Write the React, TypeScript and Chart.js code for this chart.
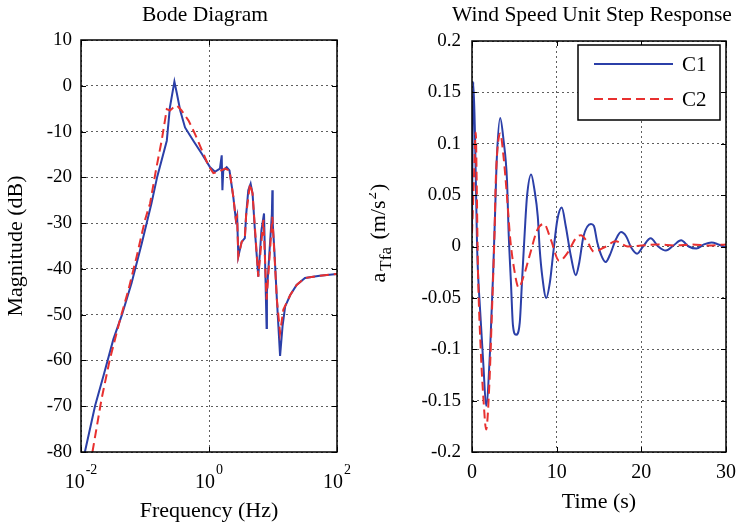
import React, { useEffect, useRef } from 'react';
import { Chart, registerables } from 'chart.js';

Chart.register(...registerables);

const FONT = '"Liberation Serif", "Times New Roman", serif';

// ---- Bode diagram data (frequency in Hz, magnitude in dB) ----
const bodeFreqC1 = [0.0115, 0.0166, 0.0224, 0.032, 0.0437, 0.0617, 0.0891, 0.126, 0.155, 0.219, 0.245, 0.288, 0.316, 0.355, 0.422, 0.569, 0.776, 1.04, 1.24, 1.48, 1.58, 1.62, 1.67, 1.89, 2.09, 2.40, 2.63, 2.75, 2.87, 3.24, 3.63, 3.80, 4.11, 4.47, 4.79, 5.25, 5.89, 6.61, 7.24, 7.94, 8.04, 9.6, 9.77, 9.9, 10.5, 11.5, 12.9, 14.1, 15.5, 18.6, 23.4, 31.6, 53.7, 100];
const bodeMagC1 = [-80, -69.9, -63.4, -55.4, -50, -43.1, -34.4, -25.7, -19.9, -12, -4.7, 0.9, -1.8, -5.4, -9.1, -12, -14.9, -17.8, -18.8, -18.1, -15.2, -22.8, -18.5, -17.8, -18.5, -24.3, -29.3, -28.3, -37.3, -34.1, -33.3, -28.3, -22.8, -21.4, -23.5, -32.2, -41.7, -31.5, -27.9, -52.9, -45, -28, -22.8, -30, -35.9, -46.7, -59, -52.5, -48.2, -45.7, -43.5, -42, -41.5, -41.1];
const bodeFreqC2 = [0.0151, 0.0209, 0.0282, 0.0407, 0.055, 0.0741, 0.1, 0.12, 0.148, 0.182, 0.219, 0.245, 0.275, 0.316, 0.372, 0.479, 0.603, 0.776, 0.977, 1.17, 1.40, 1.78, 2.09, 2.40, 2.63, 2.75, 2.87, 3.24, 3.63, 3.80, 4.37, 4.79, 5.89, 7.08, 7.94, 9.77, 11.5, 12.9, 14.5, 18.6, 23.4, 31.6, 53.7, 100];
const bodeMagC2 = [-80, -68.5, -59.8, -51.1, -44.6, -37.3, -29.3, -25.7, -18.5, -12, -5.1, -5.4, -4.8, -4.3, -5.4, -7.6, -10.5, -14.1, -17.4, -19.1, -18.8, -18.1, -18.5, -24.3, -29.3, -28.5, -37.3, -34.1, -33.3, -28.3, -21.4, -23.5, -41.7, -29.3, -46.7, -28.6, -46.7, -54, -48.9, -45.7, -43.5, -42, -41.5, -41.1];
const bodeXTicks = [0.01, 1, 100];
const bodeXTickExponents = ['-2', '0', '2'];

// ---- Step response data (time in s, a_Tfa in m/s^2) ----
const stepTimeC1 = [0, 0.15, 0.35, 0.6, 0.95, 1.35, 1.67, 2.14, 2.5, 2.74, 2.9, 3.33, 3.73, 4.13, 4.33, 4.6, 4.84, 5.2, 5.64, 5.9, 6.31, 6.5, 6.98, 7.38, 7.77, 8.0, 8.3, 8.77, 9.2, 9.6, 10.08, 10.6, 11.07, 11.67, 12.26, 12.66, 13.17, 14.05, 14.4, 14.8, 15.4, 15.8, 16.3, 17.0, 17.6, 18.2, 18.8, 19.5, 20.2, 21.1, 22.0, 22.9, 23.8, 24.7, 25.6, 26.5, 27.4, 28.3, 29.1, 30];
const stepValC1 = [0.02, 0.16, 0.11, 0.0, -0.061, -0.116, -0.155, -0.1, -0.025, 0.036, 0.08, 0.125, 0.103, 0.065, 0.013, -0.035, -0.077, -0.086, -0.074, -0.035, 0.026, 0.049, 0.07, 0.055, 0.029, -0.003, -0.029, -0.05, -0.035, -0.006, 0.026, 0.038, 0.02, -0.009, -0.028, -0.016, 0.01, 0.022, 0.02, 0.004, -0.011, -0.015, -0.008, 0.007, 0.014, 0.01, -0.001, -0.007, 0, 0.008, 0, -0.004, 0.001, 0.006, 0, -0.002, 0.002, 0.004, 0.002, -0.001];
const stepTimeC2 = [0, 0.2, 0.45, 0.55, 0.7, 1.03, 1.35, 1.67, 2.06, 2.34, 2.66, 2.8, 3.0, 3.33, 3.73, 4.13, 4.52, 4.92, 5.52, 6.1, 6.9, 7.7, 8.5, 9.3, 10.3, 11.3, 12.26, 12.86, 13.65, 14.4, 15.6, 17, 18.4, 20, 22, 24, 26, 28, 30];
const stepValC2 = [0.013, 0.06, 0.111, 0.065, -0.02, -0.1, -0.148, -0.178, -0.132, -0.067, 0.013, 0.062, 0.094, 0.11, 0.087, 0.049, 0.007, -0.019, -0.04, -0.029, -0.006, 0.016, 0.022, 0.007, -0.014, -0.006, 0.008, 0.011, 0.004, -0.005, -0.001, 0.005, 0, 0.001, 0.002, 0.001, 0.002, 0.001, 0.002];

const seriesLabels = ['C1', 'C2'];
const seriesColors = ['#2b3fa8', '#e8302f'];
const seriesDash = [[], [9, 5]];

const zip = (xs: number[], ys: number[]) => xs.map((x, i) => ({ x, y: ys[i] }));

const matlabPlugin = {
  id: 'matlab',
  afterDraw(chart: any, _args: any, opts: any) {
    const ctx = chart.ctx as CanvasRenderingContext2D;
    const a = chart.chartArea;
    const xs = chart.scales.x;
    const ys = chart.scales.y;
    ctx.save();
    ctx.strokeStyle = '#000';
    ctx.lineWidth = 1;
    ctx.setLineDash([]);
    const tl = 5;
    const seg = (x1: number, y1: number, x2: number, y2: number) => {
      ctx.beginPath();
      ctx.moveTo(x1, y1);
      ctx.lineTo(x2, y2);
      ctx.stroke();
    };
    xs.ticks.forEach((t: any) => {
      const px = Math.round(xs.getPixelForValue(t.value)) + 0.5;
      seg(px, a.bottom, px, a.bottom - tl);
      seg(px, a.top, px, a.top + tl);
    });
    ys.ticks.forEach((t: any) => {
      const py = Math.round(ys.getPixelForValue(t.value)) + 0.5;
      seg(a.left, py, a.left + tl, py);
      seg(a.right, py, a.right - tl, py);
    });
    ctx.lineWidth = 1.5;
    ctx.strokeRect(a.left, a.top, a.right - a.left, a.bottom - a.top);

    ctx.fillStyle = '#000';
    ctx.font = `21.5px ${FONT}`;
    ctx.textAlign = 'center';
    ctx.textBaseline = 'alphabetic';
    ctx.fillText(opts.title, opts.titleX, opts.titleY);

    if (opts.expTicks) {
      opts.expTicks.values.forEach((v: number, i: number) => {
        const px = xs.getPixelForValue(v);
        const exp = opts.expTicks.exps[i];
        ctx.font = `20px ${FONT}`;
        const wBase = ctx.measureText('10').width;
        ctx.font = `14px ${FONT}`;
        const wExp = ctx.measureText(exp).width;
        const start = px - (wBase + 1 + wExp) / 2;
        ctx.textAlign = 'left';
        ctx.font = `20px ${FONT}`;
        ctx.fillText('10', start, a.bottom + 36);
        ctx.font = `14px ${FONT}`;
        ctx.fillText(exp, start + wBase + 1, a.bottom + 22);
      });
    }

    if (opts.yLabel) {
      const parts = opts.yLabel.parts as { t: string; s: number; dy: number; gap: number }[];
      let total = 0;
      parts.forEach((p) => {
        ctx.font = `${p.s}px ${FONT}`;
        total += ctx.measureText(p.t).width + p.gap;
      });
      ctx.translate(opts.yLabel.x, opts.yLabel.y);
      ctx.rotate(-Math.PI / 2);
      ctx.textAlign = 'left';
      let cx = -total / 2;
      parts.forEach((p) => {
        ctx.font = `${p.s}px ${FONT}`;
        ctx.fillText(p.t, cx, p.dy);
        cx += ctx.measureText(p.t).width + p.gap;
      });
      ctx.setTransform(1, 0, 0, 1, 0, 0);
    }

    if (opts.legend) {
      const w = 142, h = 75;
      const left = a.right - 6 - w;
      const top = a.top + 4;
      ctx.fillStyle = '#fff';
      ctx.fillRect(left, top, w, h);
      ctx.strokeStyle = '#000';
      ctx.lineWidth = 1.5;
      ctx.strokeRect(left, top, w, h);
      chart.data.datasets.forEach((ds: any, i: number) => {
        const y = top + 19 + i * 35;
        ctx.strokeStyle = ds.borderColor;
        ctx.lineWidth = 2;
        ctx.setLineDash(ds.borderDash || []);
        seg(left + 16, y, left + 95, y);
        ctx.setLineDash([]);
        ctx.fillStyle = '#000';
        ctx.font = `21px ${FONT}`;
        ctx.textAlign = 'left';
        ctx.textBaseline = 'middle';
        ctx.fillText(ds.label, left + 104, y + 1);
      });
    }
    ctx.restore();
  },
};

const gridOpts = { color: 'rgba(40,40,40,0.75)', lineWidth: 1, drawTicks: false };
const borderOpts = { display: false, dash: [2, 3] };
const noPad = (s: any) => {
  s.paddingLeft = 0;
  s.paddingRight = 0;
  s.paddingTop = 0;
  s.paddingBottom = 0;
};

function makeDatasets(data: { x: number; y: number }[][]) {
  return data.map((d, i) => ({
    label: seriesLabels[i],
    data: d,
    borderColor: seriesColors[i],
    backgroundColor: seriesColors[i],
    borderWidth: 2,
    borderDash: seriesDash[i],
    pointRadius: 0,
    tension: 0,
    fill: false,
    order: seriesLabels.length - i,
  }));
}

function BodeChart() {
  const ref = useRef<HTMLCanvasElement>(null);
  useEffect(() => {
    const chart = new Chart(ref.current!, {
      type: 'line',
      data: {
        datasets: makeDatasets([zip(bodeFreqC1, bodeMagC1), zip(bodeFreqC2, bodeMagC2)]) as any,
      },
      options: {
        animation: false,
        responsive: false,
        devicePixelRatio: 1,
        layout: { padding: { top: 40, right: 32, bottom: 0, left: 0 } },
        plugins: {
          legend: { display: false },
          tooltip: { enabled: false },
          matlab: {
            title: 'Bode Diagram',
            titleX: 205,
            titleY: 21,
            expTicks: { values: bodeXTicks, exps: bodeXTickExponents },
          },
        } as any,
        scales: {
          x: {
            type: 'logarithmic',
            min: 0.01,
            max: 100,
            afterBuildTicks: (s: any) => {
              s.ticks = bodeXTicks.map((v) => ({ value: v }));
            },
            afterFit: (s: any) => {
              s.height = 77;
              noPad(s);
            },
            ticks: { display: false },
            grid: gridOpts,
            border: borderOpts,
            title: {
              display: true,
              text: 'Frequency (Hz)',
              color: '#000',
              font: { family: FONT, size: 22 },
              padding: { top: 0, bottom: 5 },
            },
          },
          y: {
            min: -80,
            max: 10,
            afterFit: (s: any) => {
              s.width = 81;
              noPad(s);
            },
            ticks: {
              stepSize: 10,
              color: '#000',
              padding: 9,
              font: { family: FONT, size: 19 },
              callback: (v: any) => String(v),
            },
            grid: gridOpts,
            border: borderOpts,
            title: {
              display: true,
              text: 'Magnitude (dB)',
              color: '#000',
              font: { family: FONT, size: 22 },
              padding: { top: 3, bottom: 0 },
            },
          },
        },
      } as any,
      plugins: [matlabPlugin as any],
    });
    return () => chart.destroy();
  }, []);
  return <canvas ref={ref} width={369} height={529} style={{ display: 'block' }} />;
}

function StepChart() {
  const ref = useRef<HTMLCanvasElement>(null);
  useEffect(() => {
    const chart = new Chart(ref.current!, {
      type: 'line',
      data: {
        datasets: makeDatasets([zip(stepTimeC1, stepValC1), zip(stepTimeC2, stepValC2)]).map((d) => ({
          ...d,
          cubicInterpolationMode: 'monotone',
        })) as any,
      },
      options: {
        animation: false,
        responsive: false,
        devicePixelRatio: 1,
        layout: { padding: { top: 41, right: 12, bottom: 0, left: 0 } },
        plugins: {
          legend: { display: false },
          tooltip: { enabled: false },
          matlab: {
            title: 'Wind Speed Unit Step Response',
            titleX: 223,
            titleY: 21,
            legend: true,
            yLabel: {
              x: 16,
              y: 233,
              parts: [
                { t: 'a', s: 22, dy: 0, gap: 2 },
                { t: 'Tfa', s: 17, dy: 6, gap: 2 },
                { t: ' (m/s', s: 22, dy: 0, gap: 1 },
                { t: '2', s: 15, dy: -9, gap: 1 },
                { t: ')', s: 22, dy: 0, gap: 0 },
              ],
            },
          },
        } as any,
        scales: {
          x: {
            type: 'linear',
            min: 0,
            max: 30,
            afterFit: (s: any) => {
              s.height = 77;
              noPad(s);
            },
            ticks: {
              stepSize: 10,
              color: '#000',
              padding: 9,
              font: { family: FONT, size: 20 },
              callback: (v: any) => String(v),
            },
            grid: gridOpts,
            border: borderOpts,
            title: {
              display: true,
              text: 'Time (s)',
              color: '#000',
              font: { family: FONT, size: 22 },
              padding: { top: 0, bottom: 14 },
            },
          },
          y: {
            min: -0.2,
            max: 0.2,
            afterFit: (s: any) => {
              s.width = 103;
              noPad(s);
            },
            ticks: {
              stepSize: 0.05,
              color: '#000',
              padding: 11,
              font: { family: FONT, size: 19 },
              callback: (v: any) => String(parseFloat(Number(v).toFixed(2))),
            },
            grid: gridOpts,
            border: borderOpts,
          },
        },
      } as any,
      plugins: [matlabPlugin as any],
    });
    return () => chart.destroy();
  }, []);
  return <canvas ref={ref} width={369} height={529} style={{ display: 'block' }} />;
}

export default function App() {
  return (
    <div style={{ position: 'absolute', left: 0, top: 0, width: 738, height: 529, background: '#fff', display: 'flex' }}>
      <BodeChart />
      <StepChart />
    </div>
  );
}
